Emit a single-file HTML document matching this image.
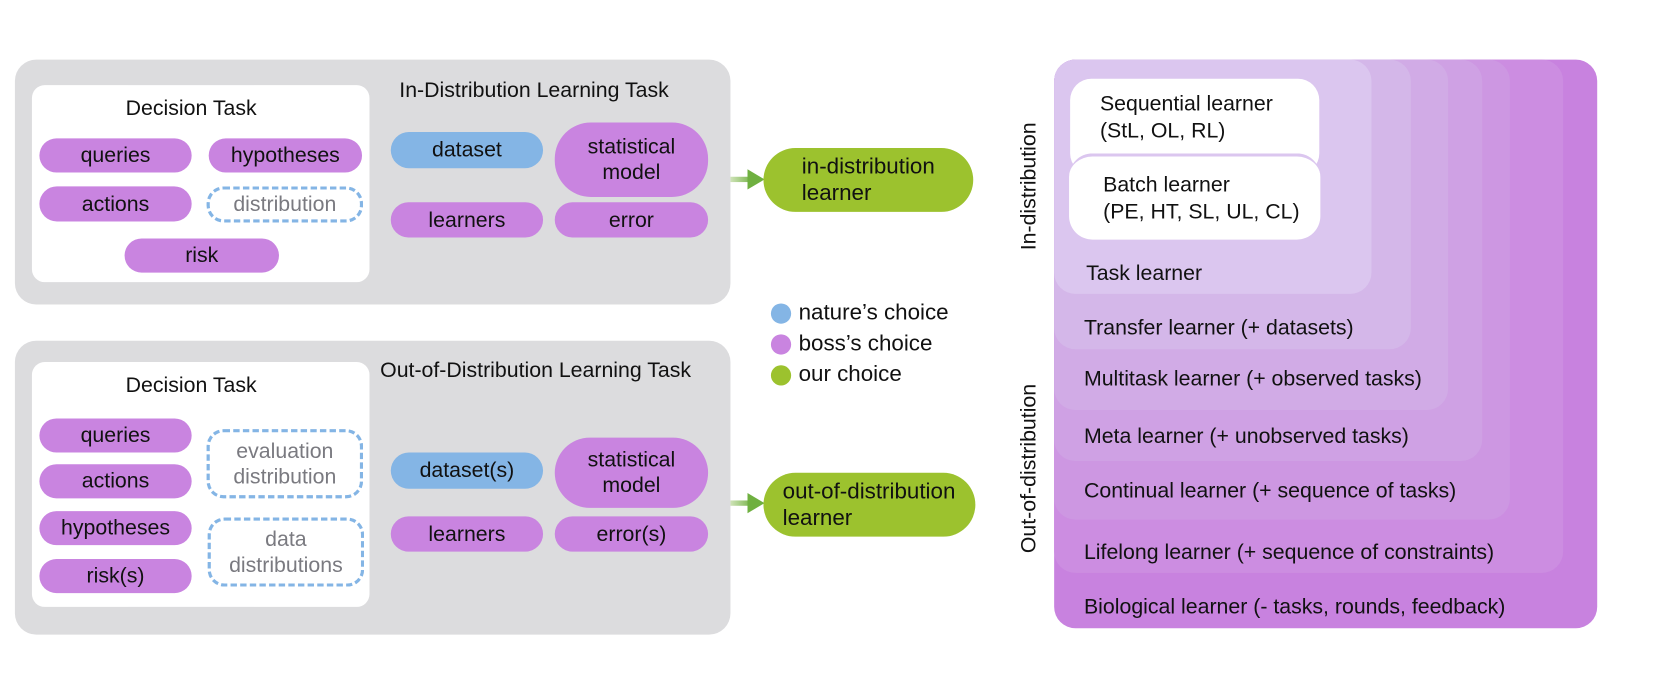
<!DOCTYPE html>
<html><head><meta charset="utf-8"><style>
html,body{margin:0;padding:0;background:#fff;}
body{width:1661px;height:689px;overflow:hidden;position:relative;}
#w{position:absolute;left:0;top:0;width:1560px;height:647px;transform:scale(1.0648);transform-origin:0 0;font-family:"Liberation Sans",Arial,sans-serif;color:#111;}
.a{position:absolute;box-sizing:border-box;}
.g{background:#dcdcde;border-radius:20px;}
.wh{background:#fff;border-radius:12px;}
.p{position:absolute;box-sizing:border-box;background:#c984e0;border-radius:17px;display:flex;align-items:center;justify-content:center;text-align:center;font-size:20px;line-height:24px;white-space:nowrap;}
.b{background:#84b5e5;}
.d{background:none;border:3px dashed #84b5e5;color:#7a7a80;border-radius:16px;}
.gr{background:#9cc22e;border-radius:31px;justify-content:flex-start;text-align:left;padding-left:36px;font-size:21px;line-height:25px;}
.t{position:absolute;font-size:20px;white-space:nowrap;}
.dot{position:absolute;width:19px;height:19px;border-radius:50%;}
</style></head><body><div id="w">
<!-- top -->
<div class="a g" style="left:14px;top:56px;width:672px;height:230px"></div>
<div class="a wh" style="left:30px;top:80px;width:317px;height:185px"></div>
<div class="t" style="left:118px;top:91px">Decision Task</div>
<div class="p" style="left:37px;top:130px;width:143px;height:32px">queries</div>
<div class="p" style="left:196px;top:130px;width:144px;height:32px">hypotheses</div>
<div class="p" style="left:37px;top:175px;width:143px;height:33px">actions</div>
<div class="p d" style="left:194px;top:175px;width:147px;height:34px">distribution</div>
<div class="p" style="left:117px;top:224px;width:145px;height:32px">risk</div>
<div class="t" style="left:375px;top:74px">In-Distribution Learning Task</div>
<div class="p b" style="left:367px;top:124px;width:143px;height:34px">dataset</div>
<div class="p" style="left:521px;top:115px;width:144px;height:70px;border-radius:34px">statistical<br>model</div>
<div class="p" style="left:367px;top:190px;width:143px;height:33px">learners</div>
<div class="p" style="left:521px;top:190px;width:144px;height:33px">error</div>
<!-- bottom -->
<div class="a g" style="left:14px;top:320px;width:672px;height:276px"></div>
<div class="a wh" style="left:30px;top:340px;width:317px;height:230px"></div>
<div class="t" style="left:118px;top:351px">Decision Task</div>
<div class="p" style="left:37px;top:393px;width:143px;height:32px">queries</div>
<div class="p" style="left:37px;top:436px;width:143px;height:32px">actions</div>
<div class="p" style="left:37px;top:480px;width:143px;height:32px">hypotheses</div>
<div class="p" style="left:37px;top:525px;width:143px;height:32px">risk(s)</div>
<div class="p d" style="left:194px;top:403px;width:147px;height:65px">evaluation<br>distribution</div>
<div class="p d" style="left:195px;top:486px;width:147px;height:65px">data<br>distributions</div>
<div class="t" style="left:357px;top:337px">Out-of-Distribution Learning Task</div>
<div class="p b" style="left:367px;top:425px;width:143px;height:34px">dataset(s)</div>
<div class="p" style="left:521px;top:411px;width:144px;height:66px;border-radius:33px">statistical<br>model</div>
<div class="p" style="left:367px;top:485px;width:143px;height:33px">learners</div>
<div class="p" style="left:521px;top:485px;width:144px;height:33px">error(s)</div>
<!-- arrows -->
<svg class="a" style="left:680px;top:150px" width="45" height="340">
<defs><linearGradient id="ag" x1="0" x2="1"><stop offset="0" stop-color="#cfe3b8"/><stop offset="1" stop-color="#6fb040"/></linearGradient></defs>
<rect x="6" y="16" width="22" height="5" fill="url(#ag)"/><polygon points="22,9 38,18.5 22,28" fill="#6fb040"/>
<rect x="6" y="320" width="22" height="5" fill="url(#ag)"/><polygon points="22,313 38,322.5 22,332" fill="#6fb040"/>
</svg>
<div class="p gr" style="left:717px;top:139px;width:197px;height:60px">in-distribution<br>learner</div>
<div class="p gr" style="left:717px;top:444px;width:199px;height:60px;padding-left:18px">out-of-distribution<br>learner</div>
<!-- legend -->
<div class="dot" style="left:724px;top:285px;background:#84b5e5"></div><div class="t" style="left:750px;top:282px;font-size:21px">nature’s choice</div>
<div class="dot" style="left:724px;top:314px;background:#c984e0"></div><div class="t" style="left:750px;top:311px;font-size:21px">boss’s choice</div>
<div class="dot" style="left:724px;top:343px;background:#9cc22e"></div><div class="t" style="left:750px;top:340px;font-size:21px">our choice</div>
<!-- right -->
<div class="a" style="left:990px;top:56px;width:510px;height:534px;background:#c882df;border-radius:20px"></div>
<div class="a" style="left:990px;top:56px;width:478px;height:482px;background:#cc8de1;border-radius:20px"></div>
<div class="a" style="left:990px;top:56px;width:428px;height:432px;background:#cd97e2;border-radius:20px"></div>
<div class="a" style="left:990px;top:56px;width:402px;height:377px;background:#cfa1e4;border-radius:20px"></div>
<div class="a" style="left:990px;top:56px;width:370px;height:329px;background:#d1abe6;border-radius:20px"></div>
<div class="a" style="left:990px;top:56px;width:335px;height:272px;background:#d4b7e9;border-radius:20px"></div>
<div class="a" style="left:990px;top:56px;width:298px;height:220px;background:#dbc6ef;border-radius:20px"></div>
<div class="a" style="left:1005px;top:74px;width:234px;height:90px;background:#fff;border-radius:20px"></div>
<div class="a" style="left:1004px;top:144px;width:236px;height:81px;background:#fff;border-radius:22px;border:3px solid #dbc6ef;border-bottom:none;border-left:none;border-right:none"></div>
<div class="t" style="left:1033px;top:86px;line-height:25px">Sequential learner<br>(StL, OL, RL)</div>
<div class="t" style="left:1036px;top:162px;line-height:25px">Batch learner<br>(PE, HT, SL, UL, CL)</div>
<div class="t" style="left:1020px;top:246px">Task learner</div>
<div class="t" style="left:1018px;top:297px">Transfer learner (+ datasets)</div>
<div class="t" style="left:1018px;top:345px">Multitask learner (+ observed tasks)</div>
<div class="t" style="left:1018px;top:399px">Meta learner (+ unobserved tasks)</div>
<div class="t" style="left:1018px;top:450px">Continual learner (+ sequence of tasks)</div>
<div class="t" style="left:1018px;top:508px">Lifelong learner (+ sequence of constraints)</div>
<div class="t" style="left:1018px;top:559px">Biological learner (- tasks, rounds, feedback)</div>
<div class="t" style="left:967px;top:175px;transform:translate(-50%,-50%) rotate(-90deg)">In-distribution</div>
<div class="t" style="left:967px;top:440px;transform:translate(-50%,-50%) rotate(-90deg)">Out-of-distribution</div>
</div></body></html>
